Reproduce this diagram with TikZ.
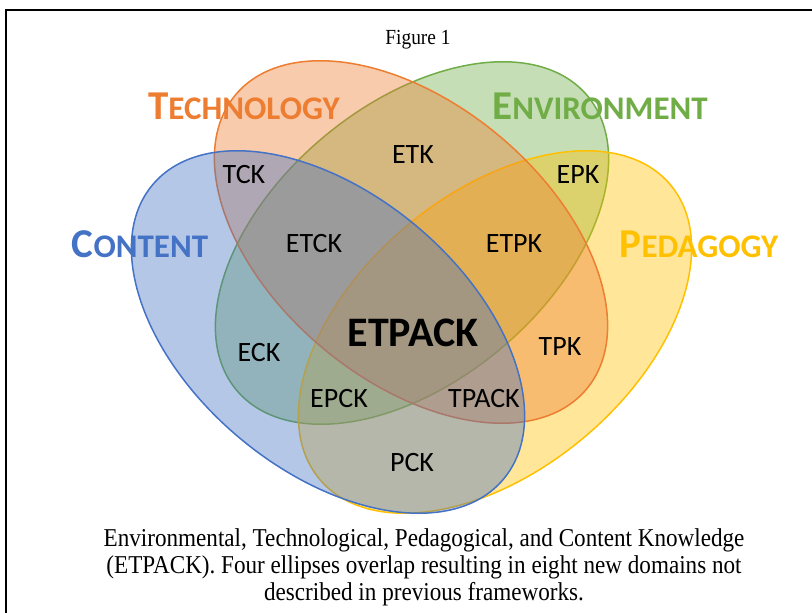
\documentclass[tikz,border=0pt]{standalone}
\usepackage{fontspec}
\setmainfont{Liberation Serif}
\newfontfamily\calfont{Carlito}
\newfontfamily\capfont[FakeStretch=0.9]{Liberation Serif}
\definecolor{cblue}{HTML}{4472C4}
\definecolor{corange}{HTML}{ED7D31}
\definecolor{cgreen}{HTML}{70AD47}
\definecolor{cyellow}{HTML}{FFC000}
\tikzset{
  setshape/.style={line width=1.5pt, fill=#1, draw=#1, fill opacity=0.4},
  region/.style={font=\calfont\fontsize{28}{30}\selectfont, inner sep=0pt},
  setlabel/.style={text=#1, font=\calfont\bfseries, inner sep=0pt},
  captext/.style={font=\capfont\fontsize{25.7}{27}\selectfont, align=center, inner sep=0pt}
}
\newcommand{\scapword}[2]{{\fontsize{41}{42}\selectfont #1}{\fontsize{33}{34}\selectfont #2}}
\begin{document}
\begin{tikzpicture}[x=1pt,y=-1pt]
\useasboundingbox (0,0) rectangle (812,613);
% frame
\draw[line width=1.2pt] (6,613) -- (6,10) -- (812,10);
% sets
\path[setshape=cgreen, rotate around={40:(412,243)}] (412,243) ellipse [x radius=229pt, y radius=138pt];
\path[setshape=cyellow, rotate around={40:(495,332)}] (495,332) ellipse [x radius=229pt, y radius=138pt];
\path[setshape=corange, rotate around={-40:(411,242)}] (411,242) ellipse [x radius=229pt, y radius=138pt];
\path[setshape=cblue, rotate around={-40:(328,332)}] (328,332) ellipse [x radius=229pt, y radius=138pt];
% set labels
\node[setlabel=corange] (tech) at (244,106) {\scapword{T}{ECHNOLOGY}};
\node[setlabel=cgreen] (env) at (600,106) {\scapword{E}{NVIRONMENT}};
\node[setlabel=cblue] (cont) at (140,244) {\scapword{C}{ONTENT}};
\node[setlabel=cyellow] (ped) at (699,244) {\scapword{P}{EDAGOGY}};
% region labels
\node[region] (tck) at (244,175) {TCK};
\node[region] (etk) at (413,155) {ETK};
\node[region] (epk) at (578,175) {EPK};
\node[region] (etck) at (314,244) {ETCK};
\node[region] (etpk) at (514,244) {ETPK};
\node[region, font=\calfont\bfseries\fontsize{42}{44}\selectfont] (etpack) at (413,333) {ETPACK};
\node[region] (eck) at (259,353) {ECK};
\node[region] (tpk) at (560,347) {TPK};
\node[region] (epck) at (339,399) {EPCK};
\node[region] (tpack) at (484,399) {TPACK};
\node[region] (pck) at (412,463) {PCK};
% captions
\node[captext, font=\capfont\fontsize{21.5}{24}\selectfont] (fig) at (418,40) {Figure 1};
\node[captext] (cap) at (424,567) {Environmental, Technological, Pedagogical, and Content Knowledge\\(ETPACK). Four ellipses overlap resulting in eight new domains not\\described in previous frameworks.};
\end{tikzpicture}
\end{document}
